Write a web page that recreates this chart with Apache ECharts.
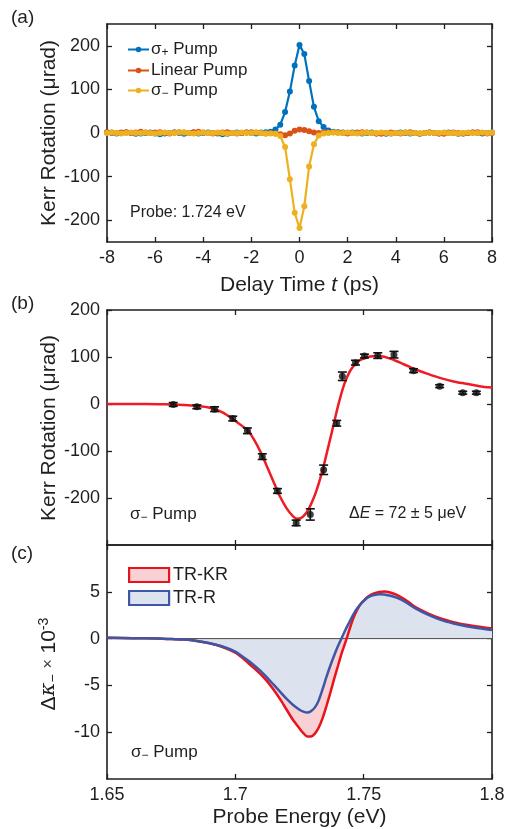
<!DOCTYPE html>
<html><head><meta charset="utf-8">
<script src="https://cdn.jsdelivr.net/npm/echarts@6/dist/echarts.min.js"></script>
<style>html,body{margin:0;padding:0;background:#fff}#c{width:508px;height:829px}</style>
</head><body><div id="c"></div>
<script>
// ---------- Panel (a): Kerr rotation vs delay time ----------
const delayTime = [-8,-7.8,-7.6,-7.4,-7.2,-7,-6.8,-6.6,-6.4,-6.2,-6,-5.8,-5.6,-5.4,-5.2,-5,-4.8,-4.6,-4.4,-4.2,-4,-3.8,-3.6,-3.4,-3.2,-3,-2.8,-2.6,-2.4,-2.2,-2,-1.8,-1.6,-1.4,-1.2,-1,-0.8,-0.6,-0.4,-0.2,0,0.2,0.4,0.6,0.8,1,1.2,1.4,1.6,1.8,2,2.2,2.4,2.6,2.8,3,3.2,3.4,3.6,3.8,4,4.2,4.4,4.6,4.8,5,5.2,5.4,5.6,5.8,6,6.2,6.4,6.6,6.8,7,7.2,7.4,7.6,7.8,8];
const sigmaPlusKerr = [1,0,-1,0,1,0,-2,-1,0,1,-1,-3,-1,0,1,0,-2,0,1,-1,0,1,0,-1,-3,-2,0,1,0,1,0,-1,1,2,3,
  8,19,48,95,155,202,181,119,60,27,14,6,
  3,2,1,0,1,0,-1,0,1,-1,0,-2,-1,0,1,0,-1,0,-2,0,1,0,-1,0,1,0,-2,-1,0,1,0,-1,0,1];
const linearKerr = [2,1,0,1,2,0,1,3,1,0,1,2,0,-1,1,2,1,0,2,3,1,0,-1,0,1,2,0,-1,0,1,2,1,0,-1,0,
  -1,-3,-5,-1,5,8,7,4,1,0,1,1,
  2,1,0,-1,0,1,2,1,0,-1,-2,0,1,0,-1,1,2,0,-1,0,1,0,-1,-2,0,1,0,-1,0,1,2,0,-1,0];
const sigmaMinusKerr = [0,1,0,-1,0,1,0,0,1,0,-1,0,1,0,0,2,1,0,-1,0,1,0,0,1,0,-1,0,0,1,0,0,1,0,-1,-1,
  -2,-7,-32,-106,-183,-218,-168,-77,-26,-6,-1,0,
  1,0,0,1,0,-1,0,1,0,0,1,0,-1,0,0,1,0,0,-1,0,1,0,0,1,0,0,-1,0,1,0,0,1,0,1];
const yTicksA = [-200,-100,0,100,200];
const xTicksA = [-8,-6,-4,-2,0,2,4,6,8];

// ---------- Panel (b): Kerr rotation vs probe energy ----------
const probeEnergyPts = [1.6758,1.685,1.6919,1.699,1.7047,1.7105,1.7164,1.7237,1.7292,1.7344,1.7395,1.7417,1.7468,1.7503,1.7555,1.7618,1.7694,1.7796,1.7886,1.7939];
const kerrPts = [-1,-6,-11,-31,-57,-112,-185,-253,-235,-140,-41,59,88,102,103,105,71,38,24,24];
const kerrErr = [4,4,5,5,6,6,5,6,12,10,6,9,5,4,6,7,4,3,3,3];
const fitEnergy = [1.65,1.66,1.67,1.675,1.68,1.685,1.69,1.695,1.7,1.7025,1.705,1.7075,1.71,1.7125,1.715,1.7175,1.72,1.7225,1.724,1.7255,1.727,1.7285,1.73,1.7315,1.733,1.7345,1.736,1.7375,1.739,1.7405,1.742,1.7435,1.745,1.7475,1.75,1.7525,1.755,1.7575,1.76,1.7625,1.765,1.7675,1.77,1.775,1.78,1.785,1.79,1.795,1.8];
const fitKerr = [0,0,-0.5,-1,-2,-4,-8,-18,-36,-46,-57,-78,-104,-135,-167,-198,-222,-239,-244,-243,-236,-224,-207,-186,-160,-130,-96,-62,-27,6,35,57,73,89,97,101,102,101,97,92,86,80,74,64,55,48,43,38,35];
const yTicksB = [-200,-100,0,100,200];

// ---------- Panel (c): TR-KR and TR-R spectra ----------
const specEnergy = [1.65,1.66,1.67,1.675,1.68,1.685,1.69,1.695,1.7,1.7025,1.705,1.7075,1.71,1.7125,1.715,1.7175,1.72,1.7225,1.725,1.7265,1.728,1.7295,1.731,1.7325,1.734,1.7355,1.737,1.7385,1.74,1.7415,1.743,1.7445,1.746,1.7475,1.749,1.7505,1.752,1.754,1.756,1.758,1.76,1.7625,1.765,1.7675,1.77,1.775,1.78,1.785,1.79,1.795,1.8];
const trkr = [0.1,0.05,0,-0.05,-0.1,-0.25,-0.5,-0.9,-1.5,-2,-2.6,-3.2,-3.85,-4.6,-5.5,-6.5,-7.6,-8.7,-9.6,-10.1,-10.45,-10.45,-10.15,-9.5,-8.5,-7.2,-5.8,-4.3,-2.9,-1.5,-0.3,1,2.2,3.1,3.75,4.2,4.55,4.82,4.98,5.04,4.96,4.72,4.35,3.9,3.4,2.7,2.15,1.76,1.48,1.26,1.08];
const trr = [0.1,0.05,0,-0.05,-0.1,-0.25,-0.5,-0.85,-1.4,-1.85,-2.35,-2.9,-3.5,-4.2,-4.95,-5.7,-6.45,-7.1,-7.6,-7.8,-7.9,-7.75,-7.35,-6.6,-5.4,-4.1,-2.9,-1.8,-0.8,0.1,1,1.8,2.6,3.25,3.75,4.15,4.45,4.65,4.75,4.72,4.6,4.4,4.1,3.7,3.25,2.55,2,1.62,1.33,1.1,0.92];
const energyTicks = [1.65,1.7,1.75,1.8];
const yTicksC = [-10,-5,0,5];
const zeroLevel = [[1.65,0],[1.8,0]];

const FONT = '"Liberation Sans", Arial, Helvetica, sans-serif';
const INK = '#1f1f1f';
const pair = (xs, ys) => xs.map((x, i) => [x, ys[i]]);

const lineAx = {show: true, onZero: false, lineStyle: {color: INK, width: 1.6}};
function tickAx(vals) { return {show: true, inside: true, length: 5, customValues: vals, lineStyle: {color: INK, width: 1.3}}; }
function xAx(grid, min, max, vals, pos, labels, extra) {
  return Object.assign({
    gridIndex: grid, type: 'value', min: min, max: max, position: pos,
    axisLine: lineAx, axisTick: tickAx(vals), splitLine: {show: false}, nameMoveOverlap: false,
    axisLabel: labels ? {show: true, customValues: vals, fontSize: 18, fontFamily: FONT, color: INK, margin: 7} : {show: false}
  }, extra || {});
}
function yAx(grid, min, max, vals, pos, labels) {
  return {
    gridIndex: grid, type: 'value', min: min, max: max, position: pos,
    axisLine: lineAx, axisTick: tickAx(vals), splitLine: {show: false},
    axisLabel: labels ? {show: true, customValues: vals, fontSize: 18, fontFamily: FONT, color: INK, margin: 7} : {show: false}
  };
}
const nameStyle = {fontSize: 21, fontFamily: FONT, color: INK};

const chart = echarts.init(document.getElementById('c'), null, {renderer: 'canvas'});
chart.setOption({
  animation: false,
  backgroundColor: '#fff',
  grid: [
    {left: 107, top: 24, width: 385, height: 218},
    {left: 107, top: 310, width: 385, height: 235},
    {left: 107, top: 545, width: 385, height: 237}
  ],
  xAxis: [
    xAx(0, -8, 8, xTicksA, 'bottom', true, {name: 'Delay Time {i|t} (ps)', nameLocation: 'middle', nameGap: 33,
      nameTextStyle: Object.assign({rich: {i: {fontSize: 21, fontFamily: FONT, fontStyle: 'italic', color: INK}}}, nameStyle)}),
    xAx(0, -8, 8, xTicksA, 'top', false),
    xAx(1, 1.65, 1.8, energyTicks, 'bottom', false),
    xAx(1, 1.65, 1.8, energyTicks, 'top', false),
    xAx(2, 1.65, 1.8, energyTicks, 'bottom', true, {name: 'Probe Energy (eV)', nameLocation: 'middle', nameGap: 28, nameTextStyle: nameStyle}),
    xAx(2, 1.65, 1.8, energyTicks, 'top', false)
  ],
  yAxis: [
    yAx(0, -250, 250, yTicksA, 'left', true),
    yAx(0, -250, 250, yTicksA, 'right', false),
    yAx(1, -300, 200, yTicksB, 'left', true),
    yAx(1, -300, 200, yTicksB, 'right', false),
    yAx(2, -15, 10, yTicksC, 'left', true),
    yAx(2, -15, 10, yTicksC, 'right', false)
  ],
  legend: [
    {
      left: 122, top: 36, orient: 'vertical', itemWidth: 21, itemHeight: 7, itemGap: 3,
      data: ['σ+ Pump', 'Linear Pump', 'σ− Pump'],
      formatter: function (n) {
        if (n === 'σ+ Pump') return 'σ{sub|+} Pump';
        if (n === 'σ− Pump') return 'σ{sub|−} Pump';
        return n;
      },
      textStyle: {fontSize: 17, fontFamily: FONT, color: INK, padding: [0, 0, 0, -3],
        rich: {sub: {fontSize: 12, fontFamily: FONT, color: INK, verticalAlign: 'bottom', padding: [7, 0, 0, 0]}}}
    },
    {
      left: 123, top: 561, orient: 'vertical', itemWidth: 40, itemHeight: 14, itemGap: 5, icon: 'rect',
      data: [
        {name: 'TR-KR', itemStyle: {color: '#f9d0d3', borderColor: '#e8141c', borderWidth: 2.2}},
        {name: 'TR-R', itemStyle: {color: '#dce3ee', borderColor: '#3c57a5', borderWidth: 2.2}}
      ],
      textStyle: {fontSize: 18, fontFamily: FONT, color: INK, padding: [0, 0, 0, -1]}
    }
  ],
  series: [
    // (a)
    {type: 'line', name: 'σ+ Pump', xAxisIndex: 0, yAxisIndex: 0, data: pair(delayTime, sigmaPlusKerr),
      symbol: 'circle', symbolSize: 6, lineStyle: {width: 2.2, color: '#0072BD'}, itemStyle: {color: '#0072BD'}, z: 2},
    {type: 'line', name: 'Linear Pump', xAxisIndex: 0, yAxisIndex: 0, data: pair(delayTime, linearKerr),
      symbol: 'circle', symbolSize: 6, lineStyle: {width: 2.2, color: '#D95319'}, itemStyle: {color: '#D95319'}, z: 3},
    {type: 'line', name: 'σ− Pump', xAxisIndex: 0, yAxisIndex: 0, data: pair(delayTime, sigmaMinusKerr),
      symbol: 'circle', symbolSize: 6, lineStyle: {width: 2.2, color: '#EDB120'}, itemStyle: {color: '#EDB120'}, z: 4},
    // (b)
    {type: 'line', name: 'fit', xAxisIndex: 2, yAxisIndex: 2, data: pair(fitEnergy, fitKerr), smooth: 0.3,
      showSymbol: false, lineStyle: {width: 2.5, color: '#ee1c24'}, z: 2, silent: true},
    {type: 'custom', name: 'err', xAxisIndex: 2, yAxisIndex: 2,
      data: probeEnergyPts.map((e, i) => [e, kerrPts[i], kerrErr[i]]),
      renderItem: function (params, api) {
        const x = api.value(0), y = api.value(1), er = api.value(2);
        const top = api.coord([x, y + er]), bot = api.coord([x, y - er]);
        const w = 4.5;
        const st = {stroke: '#111', lineWidth: 1.6};
        return {type: 'group', children: [
          {type: 'line', shape: {x1: top[0], y1: top[1], x2: bot[0], y2: bot[1]}, style: st},
          {type: 'line', shape: {x1: top[0] - w, y1: top[1], x2: top[0] + w, y2: top[1]}, style: st},
          {type: 'line', shape: {x1: bot[0] - w, y1: bot[1], x2: bot[0] + w, y2: bot[1]}, style: st}
        ]};
      }, z: 3, silent: true},
    {type: 'scatter', name: 'data', xAxisIndex: 2, yAxisIndex: 2, data: pair(probeEnergyPts, kerrPts),
      symbolSize: 7, itemStyle: {color: '#111'}, z: 4, silent: true},
    // (c)
    {type: 'line', name: 'krFill', xAxisIndex: 4, yAxisIndex: 4, data: pair(specEnergy, trkr), smooth: 0.3,
      showSymbol: false, lineStyle: {width: 0}, areaStyle: {color: '#f9d0d3', opacity: 1, origin: 0}, z: 1, silent: true},
    {type: 'line', name: 'rFill', xAxisIndex: 4, yAxisIndex: 4, data: pair(specEnergy, trr), smooth: 0.3,
      showSymbol: false, lineStyle: {width: 0}, areaStyle: {color: '#dce3ee', opacity: 1, origin: 0}, z: 2, silent: true},
    {type: 'line', name: 'zero', xAxisIndex: 4, yAxisIndex: 4, data: zeroLevel, showSymbol: false,
      lineStyle: {width: 1, color: '#4a4a4a'}, z: 3, silent: true},
    {type: 'line', name: 'TR-KR', xAxisIndex: 4, yAxisIndex: 4, data: pair(specEnergy, trkr), smooth: 0.3,
      showSymbol: false, lineStyle: {width: 2.5, color: '#e8141c'}, itemStyle: {color: '#e8141c'}, z: 4, silent: true},
    {type: 'line', name: 'TR-R', xAxisIndex: 4, yAxisIndex: 4, data: pair(specEnergy, trr), smooth: 0.3,
      showSymbol: false, lineStyle: {width: 2.5, color: '#3c57a5'}, itemStyle: {color: '#3c57a5'}, z: 5, silent: true}
  ],
  graphic: [
    {type: 'text', left: 11, top: 8, style: {text: '(a)', fontSize: 19, fontFamily: FONT, fill: INK}},
    {type: 'text', left: 11, top: 294, style: {text: '(b)', fontSize: 19, fontFamily: FONT, fill: INK}},
    {type: 'text', left: 11, top: 544, style: {text: '(c)', fontSize: 19, fontFamily: FONT, fill: INK}},
    {type: 'text', x: 49, y: 133, rotation: Math.PI / 2,
      style: {text: 'Kerr Rotation (μrad)', fontSize: 21, fontFamily: FONT, fill: INK, align: 'center', verticalAlign: 'middle'}},
    {type: 'text', x: 49, y: 428, rotation: Math.PI / 2,
      style: {text: 'Kerr Rotation (μrad)', fontSize: 21, fontFamily: FONT, fill: INK, align: 'center', verticalAlign: 'middle'}},
    {type: 'text', x: 49, y: 664, rotation: Math.PI / 2,
      style: {text: '{d|Δ}{k|κ}{s|−} {x|×} 10{p|-3}', fontSize: 21, fontFamily: FONT, fill: INK, align: 'center', verticalAlign: 'middle',
        rich: {
          d: {fontSize: 21, fontFamily: FONT, fill: INK},
          k: {fontSize: 21, fontFamily: '"DejaVu Serif", serif', fontStyle: 'italic', fill: INK},
          s: {fontSize: 14, fontFamily: FONT, fill: INK, verticalAlign: 'bottom', padding: [9, 0, 0, 0]},
          x: {fontSize: 16, fontFamily: FONT, fill: '#444'},
          p: {fontSize: 14, fontFamily: FONT, fill: INK, verticalAlign: 'top', padding: [0, 0, 9, 0]}
        }}},
    {type: 'text', left: 130, top: 205, style: {text: 'Probe: 1.724 eV', fontSize: 16, fontFamily: FONT, fill: INK}},
    {type: 'text', left: 130, top: 506, style: {text: 'σ{s|−} Pump', fontSize: 17, fontFamily: FONT, fill: INK,
      rich: {s: {fontSize: 12, fontFamily: FONT, fill: INK, verticalAlign: 'bottom', padding: [7, 0, 0, 0]}}}},
    {type: 'text', left: 349, top: 506, style: {text: 'Δ{i|E} = 72 ± 5 μeV', fontSize: 16, fontFamily: FONT, fill: INK,
      rich: {i: {fontSize: 16, fontFamily: FONT, fontStyle: 'italic', fill: INK}}}},
    {type: 'text', left: 131, top: 744, style: {text: 'σ{s|−} Pump', fontSize: 17, fontFamily: FONT, fill: INK,
      rich: {s: {fontSize: 12, fontFamily: FONT, fill: INK, verticalAlign: 'bottom', padding: [7, 0, 0, 0]}}}}
  ]
});
</script></body></html>
